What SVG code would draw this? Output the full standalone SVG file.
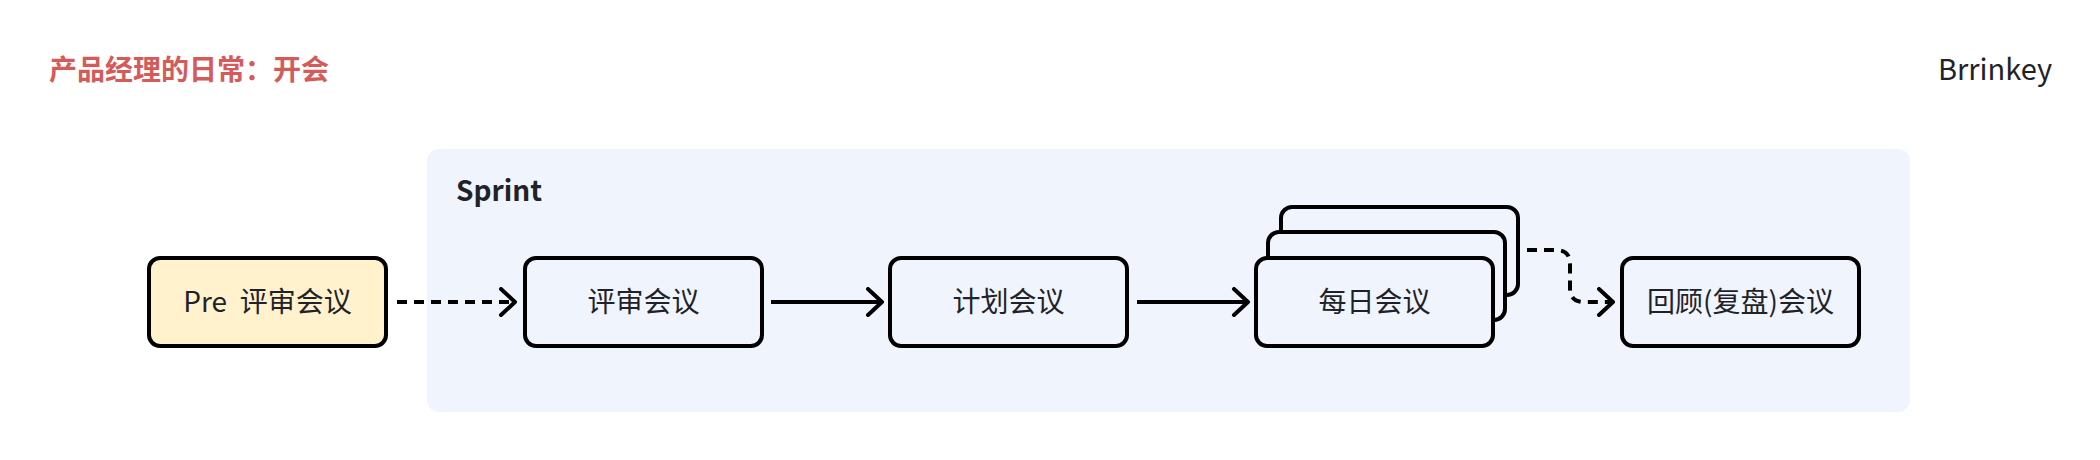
<svg xmlns="http://www.w3.org/2000/svg" width="2100" height="460" viewBox="0 0 2100 460">
<defs>
<style>
.t{font-family:"Noto Sans CJK SC","Noto Sans",sans-serif;font-size:28px;fill:#1f2329}
.n{stroke:#000;stroke-width:4;fill:#eff4fd}
.e{fill:none;stroke:#000;stroke-width:4}
.d{stroke-dasharray:10 7}
</style>
<marker id="ah" viewBox="0 0 20 30" refX="17" refY="15" markerWidth="20" markerHeight="30" markerUnits="userSpaceOnUse" orient="auto">
<path d="M3,2 L17,15 L3,28" fill="none" stroke="#000" stroke-width="4" stroke-linecap="round" stroke-linejoin="round"/>
</marker>
</defs>
<rect width="2100" height="460" fill="#fff"/>
<text class="t" x="49" y="80" style="fill:#d55b5b;font-weight:bold">产品经理的日常：开会</text>
<text class="t" x="2052" y="80" text-anchor="end" style="font-size:29px">Brrinkey</text>
<g id="sprint">
<rect x="427" y="149" width="1483" height="263" rx="12" fill="#eff4fd"/>
<text class="t" x="456" y="201" style="font-weight:bold">Sprint</text>
</g>
<g id="pre">
<rect class="n" x="149" y="258" width="237" height="88" rx="11" style="fill:#fff2cc"/>
<text class="t" x="267.5" y="312" text-anchor="middle" xml:space="preserve">Pre  评审会议</text>
</g>
<g id="review">
<rect class="n" x="525" y="258" width="237" height="88" rx="11"/>
<text class="t" x="643.5" y="312" text-anchor="middle">评审会议</text>
</g>
<g id="plan">
<rect class="n" x="890" y="258" width="237" height="88" rx="11"/>
<text class="t" x="1008.5" y="312" text-anchor="middle">计划会议</text>
</g>
<g id="daily">
<rect class="n" x="1281" y="207" width="237" height="88" rx="11"/>
<rect class="n" x="1268" y="232" width="237" height="88" rx="11"/>
<rect class="n" x="1256" y="258" width="237" height="88" rx="11"/>
<text class="t" x="1374.5" y="312" text-anchor="middle">每日会议</text>
</g>
<g id="retro">
<rect class="n" x="1622" y="258" width="237" height="88" rx="11"/>
<text class="t" x="1740.5" y="312" text-anchor="middle">回顾(复盘)会议</text>
</g>
<g id="connectors">
<path class="e d" d="M397,302 L515,302" marker-end="url(#ah)"/>
<path class="e" d="M771,302 L882,302" marker-end="url(#ah)"/>
<path class="e" d="M1137,302 L1248,302" marker-end="url(#ah)"/>
<path class="e d" d="M1527,250 L1556,250 Q1570,250 1570,264 L1570,288 Q1570,302 1584,302 L1613,302" marker-end="url(#ah)"/>
</g>
</svg>
